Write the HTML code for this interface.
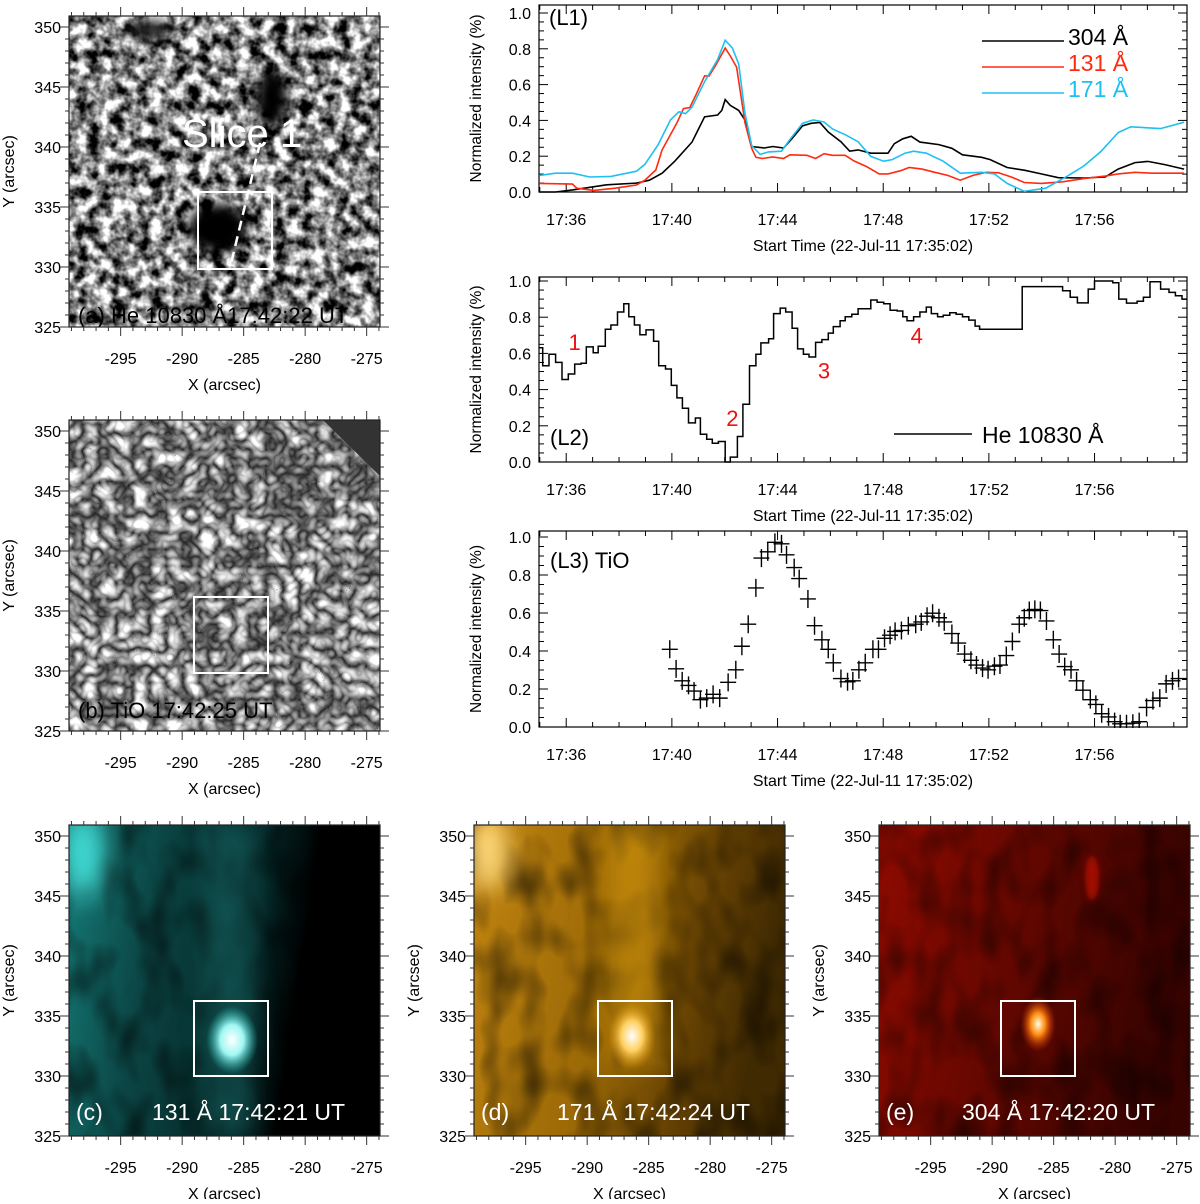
<!DOCTYPE html>
<html><head><meta charset="utf-8">
<style>
html,body{margin:0;padding:0;background:#fff;}
svg text{font-family:"Liberation Sans",Arial,sans-serif;}
</style></head>
<body>
<svg id="fig" width="1200" height="1199" viewBox="0 0 1200 1199" xmlns="http://www.w3.org/2000/svg">
<defs>
  <filter id="granA" x="0" y="0" width="100%" height="100%" color-interpolation-filters="sRGB">
    <feTurbulence type="fractalNoise" baseFrequency="0.08" numOctaves="3" seed="3"/>
    <feColorMatrix type="matrix" values="2.4 0 0 0 -0.68  2.4 0 0 0 -0.68  2.4 0 0 0 -0.68  0 0 0 0 1"/>
  </filter>
  <filter id="granB" x="0" y="0" width="100%" height="100%" color-interpolation-filters="sRGB">
    <feTurbulence type="turbulence" baseFrequency="0.06" numOctaves="2" seed="7"/>
    <feColorMatrix type="matrix" values="1.5 0 0 0 0.14  1.5 0 0 0 0.14  1.5 0 0 0 0.14  0 0 0 0 1"/>
  </filter>
  <filter id="blobby" x="0" y="0" width="100%" height="100%">
    <feTurbulence type="fractalNoise" baseFrequency="0.035 0.02" numOctaves="2" seed="11"/>
    <feColorMatrix type="matrix" values="0 0 0 0 0  0 0 0 0 0  0 0 0 0 0  2 0 0 0 -0.8"/>
  </filter>
  <filter id="blur6" filterUnits="userSpaceOnUse" x="0" y="0" width="1200" height="1199"><feGaussianBlur stdDeviation="6"/></filter>
  <filter id="blur10" filterUnits="userSpaceOnUse" x="0" y="0" width="1200" height="1199"><feGaussianBlur stdDeviation="12"/></filter>
  <filter id="blur3" filterUnits="userSpaceOnUse" x="0" y="0" width="1200" height="1199"><feGaussianBlur stdDeviation="3"/></filter>
  <clipPath id="cpA"><rect x="69" y="16" width="311" height="311"/></clipPath>
  <clipPath id="cpB"><rect x="69" y="420" width="311" height="311"/></clipPath>
  <clipPath id="cpC"><rect x="69" y="825" width="311" height="311"/></clipPath>
  <clipPath id="cpD"><rect x="474" y="825" width="311" height="311"/></clipPath>
  <clipPath id="cpE"><rect x="879" y="825" width="311" height="311"/></clipPath>
  <radialGradient id="gC" cx="0.5" cy="0.5" r="0.5"><stop offset="0" stop-color="#ffffff"/><stop offset="0.45" stop-color="#9ff7f2"/><stop offset="1" stop-color="#1fb9b5" stop-opacity="0"/></radialGradient>
  <radialGradient id="gD" cx="0.5" cy="0.5" r="0.5"><stop offset="0" stop-color="#ffffff"/><stop offset="0.45" stop-color="#ffd060"/><stop offset="1" stop-color="#d08a00" stop-opacity="0"/></radialGradient>
  <radialGradient id="gE" cx="0.5" cy="0.5" r="0.5"><stop offset="0" stop-color="#ffffe0"/><stop offset="0.4" stop-color="#ff8a10"/><stop offset="1" stop-color="#c02000" stop-opacity="0"/></radialGradient>
  <linearGradient id="cyanL" x1="0" y1="0" x2="1" y2="0.15"><stop offset="0" stop-color="#157a77"/><stop offset="0.3" stop-color="#0b4544"/><stop offset="0.65" stop-color="#052525"/><stop offset="0.8" stop-color="#000"/><stop offset="1" stop-color="#000"/></linearGradient>
  <linearGradient id="oraL" x1="0" y1="0" x2="1" y2="0.2"><stop offset="0" stop-color="#c08410"/><stop offset="0.5" stop-color="#9a6806"/><stop offset="0.8" stop-color="#634003"/><stop offset="1" stop-color="#402a02"/></linearGradient>
  <linearGradient id="redL" x1="0" y1="0" x2="1" y2="0.2"><stop offset="0" stop-color="#8e0b00"/><stop offset="0.5" stop-color="#620700"/><stop offset="1" stop-color="#360300"/></linearGradient>
</defs>

<!-- Panel (a) -->
<g clip-path="url(#cpA)">
  <rect x="69" y="16" width="311" height="311" fill="#888" filter="url(#granA)"/>
  <ellipse cx="218" cy="228" rx="30" ry="25" fill="#000" filter="url(#blur6)"/>
  <ellipse cx="272" cy="98" rx="16" ry="28" fill="#000" filter="url(#blur6)"/>
  <ellipse cx="150" cy="30" rx="22" ry="10" fill="#222" filter="url(#blur6)"/>
</g>
<g>
  <rect x="198" y="192" width="74" height="77" fill="none" stroke="#fff" stroke-width="2"/>
  <line x1="260" y1="143" x2="230" y2="268" stroke="#fff" stroke-width="2.5" stroke-dasharray="10,6"/>
  <text x="182" y="147" font-size="40" fill="#fff">Slice 1</text>
  <text x="78" y="323" font-size="22" fill="#000">(a) He 10830 Å17:42:22 UT</text>
</g>

<!-- Panel (b) -->
<g clip-path="url(#cpB)">
  <rect x="69" y="420" width="311" height="311" fill="#888" filter="url(#granB)"/>
  <polygon points="323,420 381,420 381,477" fill="#333"/>
</g>
<g>
  <rect x="194" y="597" width="74" height="76" fill="none" stroke="#fff" stroke-width="2"/>
  <text x="78" y="718" font-size="22" fill="#000">(b) TiO 17:42:25 UT</text>
</g>

<!-- Panel (c) -->
<g clip-path="url(#cpC)">
  <rect x="69" y="825" width="311" height="311" fill="url(#cyanL)"/>
  <rect x="69" y="825" width="311" height="311" fill="#000" filter="url(#blobby)" opacity="0.6"/>
  <rect x="205" y="825" width="50" height="311" fill="#1a7f7c" opacity="0.4" filter="url(#blur10)"/>
  <ellipse cx="82" cy="855" rx="22" ry="45" fill="#3fd8d2" filter="url(#blur10)"/>
  <ellipse cx="232" cy="1040" rx="26" ry="34" fill="url(#gC)"/>
</g>
<g>
  <rect x="194" y="1001" width="74" height="75" fill="none" stroke="#fff" stroke-width="2"/>
  <text x="76" y="1120" font-size="23" fill="#fff">(c)</text>
  <text x="152" y="1120" font-size="23" fill="#fff">131 Å 17:42:21 UT</text>
</g>

<!-- Panel (d) -->
<g clip-path="url(#cpD)">
  <rect x="474" y="825" width="311" height="311" fill="url(#oraL)"/>
  <rect x="474" y="825" width="311" height="311" fill="#3a2500" filter="url(#blobby)" opacity="0.55"/>
  <rect x="610" y="825" width="50" height="240" fill="#e0a010" opacity="0.5" filter="url(#blur10)"/>
  <ellipse cx="488" cy="852" rx="20" ry="38" fill="#ffd878" filter="url(#blur10)"/>
  <ellipse cx="632" cy="1036" rx="24" ry="34" fill="url(#gD)"/>
</g>
<g>
  <rect x="598" y="1001" width="74" height="75" fill="none" stroke="#fff" stroke-width="2"/>
  <text x="481" y="1120" font-size="23" fill="#fff">(d)</text>
  <text x="557" y="1120" font-size="23" fill="#fff">171 Å 17:42:24 UT</text>
</g>

<!-- Panel (e) -->
<g clip-path="url(#cpE)">
  <rect x="879" y="825" width="311" height="311" fill="url(#redL)"/>
  <rect x="879" y="825" width="311" height="311" fill="#200000" filter="url(#blobby)" opacity="0.55"/>
  <ellipse cx="1092" cy="878" rx="7" ry="22" fill="#a01000" filter="url(#blur3)"/>
  <ellipse cx="1038" cy="1024" rx="18" ry="28" fill="url(#gE)"/>
</g>
<g>
  <rect x="1001" y="1001" width="74" height="75" fill="none" stroke="#fff" stroke-width="2"/>
  <text x="886" y="1120" font-size="23" fill="#fff">(e)</text>
  <text x="962" y="1120" font-size="23" fill="#fff">304 Å 17:42:20 UT</text>
</g>

<g id="axes"></g>
</svg>

<script>
// ---------- L1 data (time in minutes after 17:00, normalized intensity) ----------
const l1Times304 = [34.98,35.6,36.24,37.53,38.66,39.15,39.63,40.11,40.76,41.24,41.73,41.89,42.02,42.21,42.53,42.77,43.02,43.5,43.82,44.23,44.55,44.95,45.27,45.6,45.92,46.4,46.73,47.05,47.53,48.18,48.42,48.74,49.06,49.39,50.11,50.6,51.0,51.73,52.05,52.69,53.34,53.98,54.63,55.6,56.4,56.89,57.53,58.02,58.66,59.39];
const l1Vals304  = [0,0,0.012,0.04,0.05,0.066,0.105,0.172,0.279,0.42,0.43,0.456,0.516,0.484,0.456,0.402,0.254,0.246,0.254,0.246,0.299,0.37,0.384,0.388,0.335,0.281,0.228,0.235,0.217,0.217,0.27,0.297,0.311,0.279,0.265,0.244,0.208,0.194,0.181,0.137,0.122,0.101,0.08,0.078,0.084,0.128,0.164,0.171,0.153,0.128];
const l1Times131 = [34.98,36.24,36.4,37.05,37.85,38.66,38.98,39.39,39.63,40.19,40.44,40.68,40.92,41.24,41.4,41.65,42.02,42.21,42.45,42.77,43.02,43.18,43.42,43.82,44.23,44.47,45.11,45.44,45.76,46.08,46.56,46.89,47.37,47.85,48.18,48.66,48.98,49.47,49.95,50.44,50.92,51.4,51.89,52.37,52.85,53.34,53.98,54.79,55.6,56.4,56.89,57.53,58.18,59.39];
const l1Vals131  = [0.048,0.044,0.021,0.009,0.021,0.039,0.066,0.123,0.235,0.386,0.466,0.472,0.546,0.649,0.647,0.706,0.804,0.76,0.698,0.386,0.244,0.194,0.187,0.196,0.187,0.208,0.205,0.187,0.214,0.205,0.205,0.174,0.142,0.101,0.101,0.119,0.137,0.128,0.11,0.093,0.066,0.093,0.11,0.107,0.084,0.053,0.048,0.057,0.075,0.089,0.101,0.11,0.105,0.105];
const l1Times171 = [34.98,35.6,36.24,36.89,37.69,38.66,38.98,39.47,39.95,40.27,40.52,40.76,41.24,41.73,42.02,42.29,42.53,42.77,43.02,43.34,43.66,44.15,44.47,44.95,45.35,45.76,46.08,46.56,47.05,47.53,48.02,48.34,48.82,49.15,49.63,50.27,50.92,51.73,52.21,52.69,53.34,54.15,54.95,55.6,56.24,56.89,57.37,58.5,59.39];
const l1Vals171  = [0.093,0.105,0.105,0.084,0.087,0.116,0.155,0.262,0.404,0.448,0.438,0.474,0.616,0.74,0.848,0.804,0.715,0.438,0.26,0.21,0.224,0.228,0.294,0.384,0.402,0.391,0.352,0.32,0.281,0.199,0.172,0.181,0.217,0.228,0.217,0.172,0.105,0.11,0.101,0.048,0.004,0.021,0.087,0.146,0.226,0.332,0.364,0.354,0.39];

// ---------- L2 data (He 10830, step levels) ----------
const l2Times = [34.98,35.11,35.35,35.6,35.84,36.08,36.32,36.56,36.76,37.02,37.21,37.48,37.69,37.94,38.18,38.37,38.58,38.79,39.02,39.31,39.5,39.76,39.98,40.19,40.4,40.63,40.89,41.08,41.32,41.53,41.76,42.02,42.21,42.48,42.69,42.94,43.18,43.37,43.66,43.85,44.1,44.31,44.55,44.76,44.98,45.19,45.44,45.68,45.92,46.11,46.37,46.56,46.81,47.05,47.53,47.77,48.02,48.26,48.53,48.74,48.9,49.15,49.39,49.63,49.82,50.06,50.27,50.52,50.76,51.0,51.24,51.48,51.65,53.26,54.79,55.08,55.35,55.76,56.0,56.69,56.92,57.21,57.61,57.85,58.1,58.5,58.82,59.06,59.31];
const l2Vals  = [0.631,0.532,0.595,0.55,0.456,0.486,0.541,0.546,0.636,0.604,0.64,0.733,0.757,0.829,0.874,0.802,0.757,0.703,0.73,0.667,0.532,0.514,0.423,0.354,0.297,0.216,0.243,0.153,0.126,0.104,0.113,0,0.027,0.141,0.319,0.532,0.595,0.658,0.681,0.82,0.85,0.829,0.739,0.625,0.595,0.58,0.661,0.676,0.712,0.748,0.78,0.802,0.816,0.847,0.895,0.883,0.874,0.838,0.834,0.802,0.78,0.802,0.829,0.856,0.82,0.802,0.811,0.825,0.816,0.802,0.784,0.751,0.733,0.969,0.946,0.91,0.879,0.955,1.0,0.99,0.9,0.878,0.888,0.91,0.996,0.955,0.937,0.919,0.9];
const l2MarkLabels = ["1","2","3","4"];
const l2MarkTimes  = [36.32,42.29,45.76,49.27];
const l2MarkVals   = [0.62,0.2,0.46,0.655];

// ---------- L3 data (TiO) ----------
const l3Times = [39.92,40.16,40.39,40.63,40.84,41.08,41.32,41.56,41.81,42.13,42.42,42.65,42.89,43.18,43.39,43.63,43.9,44.15,44.34,44.63,44.82,45.15,45.4,45.68,45.92,46.11,46.4,46.65,46.85,47.08,47.32,47.61,47.82,48.05,48.26,48.45,48.69,48.95,49.23,49.44,49.66,49.87,50.11,50.31,50.6,50.84,51.08,51.32,51.53,51.76,51.97,52.21,52.42,52.66,52.89,53.15,53.34,53.53,53.74,53.95,54.18,54.44,54.66,54.87,55.11,55.32,55.56,55.84,56.05,56.27,56.53,56.76,56.97,57.21,57.45,57.69,57.97,58.21,58.47,58.71,58.95,59.18];
const l3Vals  = [0.409,0.306,0.243,0.219,0.189,0.144,0.152,0.172,0.152,0.235,0.301,0.425,0.541,0.732,0.889,0.922,0.972,0.964,0.906,0.839,0.781,0.674,0.533,0.459,0.409,0.338,0.255,0.238,0.243,0.301,0.338,0.409,0.409,0.467,0.483,0.503,0.508,0.533,0.541,0.553,0.583,0.599,0.575,0.553,0.492,0.442,0.384,0.351,0.326,0.31,0.301,0.32,0.326,0.376,0.45,0.541,0.575,0.613,0.619,0.613,0.558,0.459,0.384,0.318,0.301,0.243,0.194,0.144,0.119,0.07,0.053,0.028,0.017,0.017,0.02,0.028,0.103,0.139,0.152,0.227,0.243,0.255];

// ---------- axis ticks ----------
const timeTickLabels = ["17:36","17:40","17:44","17:48","17:52","17:56"];
const timeTickMinutes = [36,40,44,48,52,56];
const yTickLabels = ["0.0","0.2","0.4","0.6","0.8","1.0"];
const yTickValues = [0,0.2,0.4,0.6,0.8,1.0];
const arcX = [-295,-290,-285,-280,-275];
const arcY = [325,330,335,340,345,350];

const NS = "http://www.w3.org/2000/svg";
const root = document.getElementById('axes');
function mk(tag, attrs, parent){
  const e = document.createElementNS(NS, tag);
  for (const k in attrs) e.setAttribute(k, attrs[k]);
  (parent||root).appendChild(e); return e;
}

const TX0 = 539, TX1 = 1187, T0 = 34.97, T1 = 59.5;
function xT(t){ return TX0 + (t - T0) / (T1 - T0) * (TX1 - TX0); }
const panels = [
  {id:'l1', top:5, y1:13, y0:192},
  {id:'l2', top:277, y1:281, y0:462},
  {id:'l3', top:531, y1:537, y0:727}
];
function yV(p, v){ return p.y0 - v * (p.y0 - p.y1); }

panels.forEach(p => {
  const g = mk('g', {});
  
  
  const cp = mk('clipPath', {id:'clip-'+p.id}, g);
  mk('rect', {x:TX0, y:p.top, width:TX1-TX0, height:p.y0-p.top+1}, cp);
  const frame = mk('rect', {x:TX0, y:p.top, width:TX1-TX0, height:p.y0-p.top, fill:'none', stroke:'#000', 'stroke-width':1.2}, g);
  
  
  for (let m = 35; m <= 59; m++){
    const x = xT(m); const major = (m - 36) % 4 === 0;
    const L = major ? 9 : 5;
    mk('line', {x1:x, y1:p.y0, x2:x, y2:p.y0 - L, stroke:'#000', 'stroke-width':1}, g);
    mk('line', {x1:x, y1:p.top, x2:x, y2:p.top + L, stroke:'#000', 'stroke-width':1}, g);
  }
  timeTickMinutes.forEach((m,i) => {
    const t = mk('text', {x:xT(m), y:p.y0 + 33, 'font-size':16, 'text-anchor':'middle'}, g);
    
    
    t.textContent = timeTickLabels[i];
  });
  const xl = mk('text', {x:(TX0+TX1)/2, y:p.y0 + 59, 'font-size':16, 'text-anchor':'middle'}, g);
  
  
  xl.textContent = 'Start Time (22-Jul-11 17:35:02)';
  for (let k = 0; k <= 20; k++){
    const v = k * 0.05; const y = yV(p, v); const major = k % 4 === 0;
    const L = major ? 9 : 5;
    mk('line', {x1:TX0, y1:y, x2:TX0 + L, y2:y, stroke:'#000', 'stroke-width':1}, g);
    mk('line', {x1:TX1, y1:y, x2:TX1 - L, y2:y, stroke:'#000', 'stroke-width':1}, g);
  }
  yTickValues.forEach((v,i) => {
    const t = mk('text', {x:TX0 - 8, y:yV(p, v) + 6, 'font-size':16, 'text-anchor':'end'}, g);
    
    
    t.textContent = yTickLabels[i];
  });
  const yc = (p.top + p.y0) / 2;
  const yl = mk('text', {x:481, y:yc, 'font-size':15.5, 'text-anchor':'middle', transform:'rotate(-90 481 '+yc+')'}, g);
  
  
  yl.textContent = 'Normalized intensity (%)';
  p.g = g;
});

function linePath(p, ts, vs){
  return ts.map((t,i) => (i ? 'L' : 'M') + xT(t).toFixed(1) + ' ' + yV(p, vs[i]).toFixed(1)).join(' ');
}
const P1 = panels[0];
[[l1Times304,l1Vals304,'#000','line-304'],[l1Times131,l1Vals131,'#ff2a10','line-131'],[l1Times171,l1Vals171,'#1ec0f0','line-171']].forEach(s => {
  const e = mk('path', {d:linePath(P1, s[0], s[1]), fill:'none', stroke:s[2], 'stroke-width':1.6, 'clip-path':'url(#clip-l1)'}, P1.g);
  
  
});
const l1lab = mk('text', {x:549, y:25, 'font-size':22}, P1.g);


l1lab.textContent = '(L1)';
[['304 Å','#000',41],['131 Å','#ff2a10',67],['171 Å','#1ec0f0',93]].forEach(s => {
  const lg = mk('g', {}, P1.g);
  
  
  mk('line', {x1:982, y1:s[2], x2:1064, y2:s[2], stroke:s[1], 'stroke-width':1.6}, lg);
  const t = mk('text', {x:1068, y:s[2] + 4, 'font-size':23, fill:s[1]}, lg);
  t.textContent = s[0];
});

const P2 = panels[1];
let d2 = 'M' + xT(l2Times[0]).toFixed(1) + ' ' + yV(P2, l2Vals[0]).toFixed(1);
for (let i = 1; i < l2Times.length; i++){
  d2 += ' H' + xT(l2Times[i]).toFixed(1) + ' V' + yV(P2, l2Vals[i]).toFixed(1);
}
d2 += ' H' + xT(T1).toFixed(1);
const st = mk('path', {d:d2, fill:'none', stroke:'#000', 'stroke-width':1.5, 'clip-path':'url(#clip-l2)'}, P2.g);


l2MarkLabels.forEach((s,i) => {
  const t = mk('text', {x:xT(l2MarkTimes[i]), y:yV(P2, l2MarkVals[i]), 'font-size':22, fill:'#ee1111', 'text-anchor':'middle'}, P2.g);
  
  
  t.textContent = s;
});
const l2lab = mk('text', {x:550, y:445, 'font-size':22}, P2.g);


l2lab.textContent = '(L2)';
const l2lg = mk('g', {}, P2.g);


mk('line', {x1:894, y1:434, x2:972, y2:434, stroke:'#000', 'stroke-width':1.5}, l2lg);
const l2lt = mk('text', {x:982, y:443, 'font-size':23}, l2lg);
l2lt.textContent = 'He 10830 Å';

const P3 = panels[2];
const cg = mk('g', {'clip-path':'url(#clip-l3)'}, P3.g);


l3Times.forEach((t,i) => {
  const x = xT(t), y = yV(P3, l3Vals[i]);
  const c = mk('path', {d:'M'+(x-8)+' '+y+' H'+(x+8)+' M'+x+' '+(y-9)+' V'+(y+9), stroke:'#000', 'stroke-width':1.4, fill:'none'}, cg);
  
  
});
const l3lab = mk('text', {x:550, y:568, 'font-size':22}, P3.g);


l3lab.textContent = '(L3) TiO';

const imgPanels = [
  {n:'a', x:69, y:16}, {n:'b', x:69, y:420},
  {n:'c', x:69, y:825}, {n:'d', x:474, y:825}, {n:'e', x:879, y:825}
];
const AX0 = -299.2, PXA = 12.3, AY0 = 325, PYA = 12.0, SZ = 311;
imgPanels.forEach(p => {
  const g = mk('g', {});
  
  
  const xa = v => p.x + (v - AX0) * PXA;
  const ya = v => p.y + SZ - (v - AY0) * PYA;
  mk('rect', {x:p.x, y:p.y, width:SZ, height:SZ, fill:'none', stroke:'#222', 'stroke-width':1.2}, g);
  for (let v = -299; v <= -274; v++){
    const x = xa(v); const L = (v % 5 === 0) ? 9 : 4;
    mk('line', {x1:x, y1:p.y+SZ, x2:x, y2:p.y+SZ+L, stroke:'#333', 'stroke-width':1}, g);
    mk('line', {x1:x, y1:p.y, x2:x, y2:p.y-L, stroke:'#333', 'stroke-width':1}, g);
  }
  for (let v = 325; v <= 350; v++){
    const y = ya(v); const L = (v % 5 === 0) ? 9 : 4;
    mk('line', {x1:p.x, y1:y, x2:p.x-L, y2:y, stroke:'#333', 'stroke-width':1}, g);
    mk('line', {x1:p.x+SZ, y1:y, x2:p.x+SZ+L, y2:y, stroke:'#333', 'stroke-width':1}, g);
  }
  arcX.forEach(v => {
    const t = mk('text', {x:xa(v), y:p.y+SZ+37, 'font-size':16, 'text-anchor':'middle'}, g);
    
    
    t.textContent = String(v);
  });
  arcY.forEach(v => {
    const t = mk('text', {x:p.x-8, y:ya(v)+6, 'font-size':16, 'text-anchor':'end'}, g);
    
    
    t.textContent = String(v);
  });
  const xt = mk('text', {x:p.x+SZ/2, y:p.y+SZ+63, 'font-size':16, 'text-anchor':'middle'}, g);
  
  
  xt.textContent = 'X (arcsec)';
  const cx = p.x - 55, cy = p.y + SZ/2;
  const yt = mk('text', {x:cx, y:cy, 'font-size':16, 'text-anchor':'middle', transform:'rotate(-90 '+cx+' '+cy+')'}, g);
  
  
  yt.textContent = 'Y (arcsec)';
});
</script>
</body></html>
